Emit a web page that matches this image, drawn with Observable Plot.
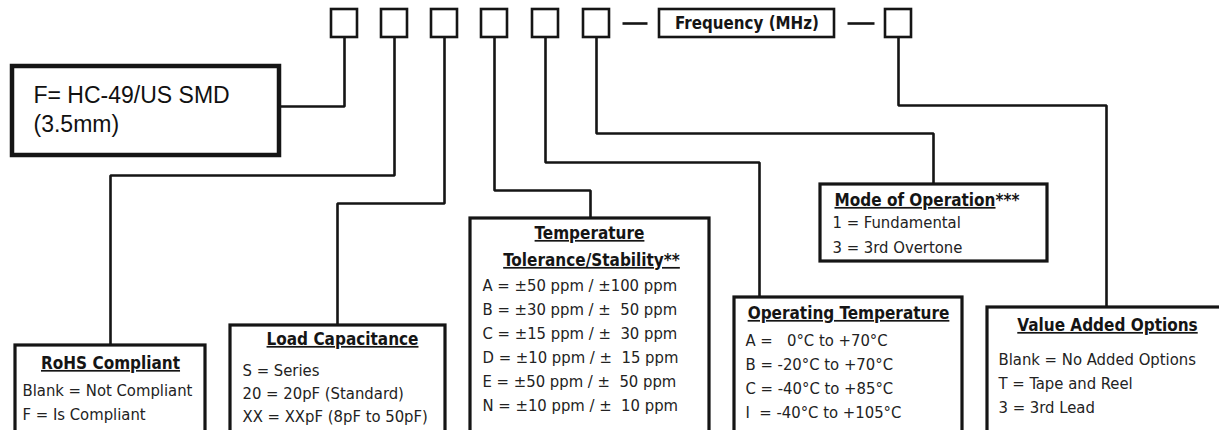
<!DOCTYPE html>
<html>
<head>
<meta charset="utf-8">
<script src="https://cdn.jsdelivr.net/npm/d3@7"></script>
<script src="https://cdn.jsdelivr.net/npm/@observablehq/plot@0.6"></script>
<style>
  body { margin: 0; background: #fff; }
  svg text { white-space: pre; }
  svg g[aria-description="titles"] text { text-decoration: underline; }
</style>
</head>
<body>
<div id="chart"></div>
<script>
// ---------- content ----------
const frequencyLabel = "Frequency (MHz)";
const packageLines = ["F= HC-49/US SMD", "(3.5mm)"];
const rohsTitle = "RoHS Compliant";
const rohsOptions = ["Blank = Not Compliant", "F = Is Compliant"];
const loadTitle = "Load Capacitance";
const loadOptions = ["S = Series", "20 = 20pF (Standard)", "XX = XXpF (8pF to 50pF)"];
const toleranceTitle = ["Temperature", "Tolerance/Stability**"];
const toleranceOptions = [
  "A = ±50 ppm / ±100 ppm",
  "B = ±30 ppm / ±  50 ppm",
  "C = ±15 ppm / ±  30 ppm",
  "D = ±10 ppm / ±  15 ppm",
  "E = ±50 ppm / ±  50 ppm",
  "N = ±10 ppm / ±  10 ppm"
];
const tempTitle = "Operating Temperature";
const tempOptions = ["A =   0°C to +70°C", "B = -20°C to +70°C", "C = -40°C to +85°C", "I  = -40°C to +105°C"];
const modeTitle = "Mode of Operation";
const modeMark = "***";
const modeOptions = ["1 = Fundamental", "3 = 3rd Overtone"];
const valueTitle = "Value Added Options";
const valueOptions = ["Blank = No Added Options", "T = Tape and Reel", "3 = 3rd Lead"];

// ---------- layout (diagram coordinates, px) ----------
const slotCenters = [344, 394, 444, 494, 545, 596, 898];
const slotTop = [9, 9, 9, 9, 9, 9, 9];
const slotBottom = [37, 37, 37, 37, 37, 37, 37];
const slotHalf = 13;
const freqBox = [659, 9, 834, 37];
const dashes = [[622, 647], [847, 874]];
const dashY = 23;
const packageBox = [12, 66, 279, 155];
const sectionBoxes = [
  [15, 345, 205, 445],    // RoHS
  [230, 325, 445, 445],   // Load
  [470, 218, 709, 445],   // Tolerance
  [734, 297, 962, 445],   // Operating temp
  [820, 184, 1047, 261],  // Mode
  [987, 307, 1240, 445]   // Value added
];
// connector polylines: slot bottom -> elbow -> box
const connectorPaths = [
  [[344, 37], [344, 106], [279, 106]],
  [[394, 37], [394, 175], [110, 175], [110, 345]],
  [[444, 37], [444, 203], [337, 203], [337, 325]],
  [[494, 37], [494, 190], [590, 190], [590, 218]],
  [[545, 37], [545, 162], [759, 162], [759, 297]],
  [[596, 37], [596, 133], [933, 133], [933, 184]],
  [[898, 37], [898, 105], [1106, 105], [1106, 307]]
];

// text positions
const packageX = 33, packageY = [95, 124];
const titlePos = [
  [110, 363], [342, 339], [589, 233], [591, 260], [848, 313], [1107, 325]
];
const modeTitlePos = [995, 200];
const rohsX = 22, rohsY = [390, 414];
const loadX = 242, loadY = [370, 393, 416];
const tolX = 482, tolY = [285, 309, 333, 357, 381, 405];
const tempX = 745, tempY = [340, 364, 388, 412];
const modeX = 832, modeY = [222, 247];
const valueX = 998, valueY = [359, 383, 407];

// ---------- build mark data ----------
const slotRects = slotCenters.map((c, i) => ({x1: c - slotHalf, x2: c + slotHalf, y1: slotTop[i], y2: slotBottom[i]}));
const freqRect = [{x1: freqBox[0], y1: freqBox[1], x2: freqBox[2], y2: freqBox[3]}];
const pkgRect = [{x1: packageBox[0], y1: packageBox[1], x2: packageBox[2], y2: packageBox[3]}];
const secRects = sectionBoxes.map(([x1, y1, x2, y2]) => ({x1, y1, x2, y2}));
const connPts = connectorPaths.flatMap((p, i) => p.map(([x, y]) => ({id: i, x, y})));
const dashSegs = dashes.map(([x1, x2]) => ({x1, x2, y: dashY}));

const titles = [rohsTitle, loadTitle, toleranceTitle[0], toleranceTitle[1], tempTitle, valueTitle]
  .map((t, i) => ({text: t, x: titlePos[i][0], y: titlePos[i][1]}));

const bodyRows = [
  ...rohsOptions.map((t, i) => ({text: t, x: rohsX, y: rohsY[i]})),
  ...loadOptions.map((t, i) => ({text: t, x: loadX, y: loadY[i]})),
  ...toleranceOptions.map((t, i) => ({text: t, x: tolX, y: tolY[i]})),
  ...tempOptions.map((t, i) => ({text: t, x: tempX, y: tempY[i]})),
  ...modeOptions.map((t, i) => ({text: t, x: modeX, y: modeY[i]})),
  ...valueOptions.map((t, i) => ({text: t, x: valueX, y: valueY[i]}))
];
const pkgRows = packageLines.map((t, i) => ({text: t, x: packageX, y: packageY[i]}));

const FONT = "'DejaVu Sans Condensed', 'DejaVu Sans', sans-serif";
const INK = "#151515";

const chart = Plot.plot({
  width: 1219,
  height: 430,
  margin: 0,
  x: {domain: [0, 1219], range: [0, 1219], axis: null},
  y: {domain: [0, 430], range: [0, 430], axis: null},
  marks: [
    Plot.line(connPts, {x: "x", y: "y", z: "id", stroke: INK, strokeWidth: 2.6, strokeLinejoin: "miter", strokeLinecap: "square"}),
    Plot.link(dashSegs, {x1: "x1", x2: "x2", y1: "y", y2: "y", stroke: INK, strokeWidth: 2.6}),
    Plot.rect(slotRects, {x1: "x1", x2: "x2", y1: "y1", y2: "y2", fill: "white", stroke: INK, strokeWidth: 2.6}),
    Plot.rect(freqRect, {x1: "x1", x2: "x2", y1: "y1", y2: "y2", fill: "white", stroke: INK, strokeWidth: 2.6}),
    Plot.rect(pkgRect, {x1: "x1", x2: "x2", y1: "y1", y2: "y2", fill: "white", stroke: INK, strokeWidth: 4.5}),
    Plot.rect(secRects, {x1: "x1", x2: "x2", y1: "y1", y2: "y2", fill: "white", stroke: INK, strokeWidth: 3.2}),
    Plot.text([frequencyLabel], {x: () => (freqBox[0] + freqBox[2]) / 2, y: () => dashY, text: d => d,
      fontFamily: FONT, fontWeight: "bold", fontSize: 16.8, fill: INK}),
    Plot.text(pkgRows, {x: "x", y: "y", text: "text", textAnchor: "start",
      fontFamily: "'Liberation Sans', Arial, sans-serif", fontSize: 23, fill: "#111"}),
    Plot.text(titles, {x: "x", y: "y", text: "text", ariaDescription: "titles",
      fontFamily: FONT, fontWeight: "bold", fontSize: 17, fill: INK}),
    Plot.text([modeTitle], {x: () => modeTitlePos[0], y: () => modeTitlePos[1], text: d => d, textAnchor: "end", ariaDescription: "titles",
      fontFamily: FONT, fontWeight: "bold", fontSize: 17, fill: INK}),
    Plot.text([modeMark], {x: () => modeTitlePos[0], y: () => modeTitlePos[1], text: d => d, textAnchor: "start",
      fontFamily: FONT, fontWeight: "bold", fontSize: 17, fill: INK}),
    Plot.text(bodyRows, {x: "x", y: "y", text: "text", textAnchor: "start",
      fontFamily: FONT, fontSize: 16.5, fill: "#222"})
  ]
});
chart.querySelectorAll('g[aria-description="titles"] text').forEach(t => t.style.textDecoration = "underline");
document.getElementById("chart").appendChild(chart);
</script>
</body>
</html>
